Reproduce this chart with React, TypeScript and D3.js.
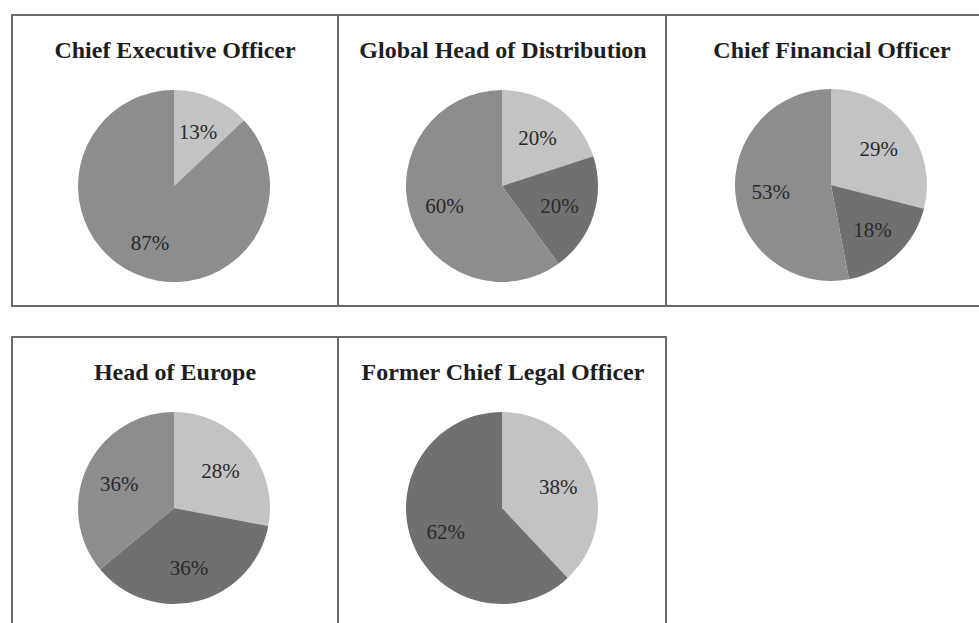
import React from "react";
import * as d3 from "d3";

// ---- Data ----
const titles = [
  "Chief Executive Officer",
  "Global Head of Distribution",
  "Chief Financial Officer",
  "Head of Europe",
  "Former Chief Legal Officer",
];
const ceoValues = [13, 87];
const ceoShades = ["light", "medium"];
const distributionValues = [20, 20, 60];
const distributionShades = ["light", "dark", "medium"];
const cfoValues = [29, 18, 53];
const cfoShades = ["light", "dark", "medium"];
const europeValues = [28, 36, 36];
const europeShades = ["light", "dark", "medium"];
const legalValues = [38, 62];
const legalShades = ["light", "dark"];

const shadeColor: Record<string, string> = {
  light: "#c3c3c3",
  medium: "#8d8d8d",
  dark: "#707070",
};

const series = [
  { values: ceoValues, shades: ceoShades },
  { values: distributionValues, shades: distributionShades },
  { values: cfoValues, shades: cfoShades },
  { values: europeValues, shades: europeShades },
  { values: legalValues, shades: legalShades },
];

// ---- Layout ----
const W = 979;
const H = 623;
const panels = [
  { x: 12, y: 15, w: 326, h: 291, cx: 174, cy: 186 },
  { x: 338, y: 15, w: 328, h: 291, cx: 502, cy: 186 },
  { x: 666, y: 15, w: 330, h: 291, cx: 831, cy: 185 },
  { x: 12, y: 337, w: 326, h: 300, cx: 174, cy: 508 },
  { x: 338, y: 337, w: 328, h: 300, cx: 502, cy: 508 },
];
const R = 96;
const titleOffset = 43;
const FONT = "'Liberation Serif', 'Times New Roman', serif";

function Pie({ idx }: { idx: number }) {
  const p = panels[idx];
  const s = series[idx];
  const data = s.values.map((v, i) => ({ v, shade: s.shades[i] }));
  const pie = d3
    .pie<{ v: number; shade: string }>()
    .value((d) => d.v)
    .sort(null)
    .startAngle(0)
    .endAngle(2 * Math.PI);
  const arcs = pie(data);
  const arc = d3.arc<d3.PieArcDatum<{ v: number; shade: string }>>().innerRadius(0).outerRadius(R);
  const labelArc = d3
    .arc<d3.PieArcDatum<{ v: number; shade: string }>>()
    .innerRadius(R * 0.63)
    .outerRadius(R * 0.63);
  return (
    <g>
      <rect x={p.x} y={p.y} width={p.w} height={p.h} fill="none" stroke="#6a6a6a" strokeWidth={2} />
      <text
        x={p.cx + 1}
        y={p.y + titleOffset}
        textAnchor="middle"
        fontFamily={FONT}
        fontWeight="bold"
        fontSize={24}
        fill="#1e1e1e"
      >
        {titles[idx]}
      </text>
      <g transform={`translate(${p.cx},${p.cy})`}>
        {arcs.map((a, i) => (
          <path key={i} d={arc(a) || ""} fill={shadeColor[a.data.shade]} />
        ))}
        {arcs.map((a, i) => {
          const [lx, ly] = labelArc.centroid(a);
          return (
            <text
              key={"l" + i}
              x={lx}
              y={ly}
              dy="0.4em"
              textAnchor="middle"
              fontFamily={FONT}
              fontSize={21}
              fill="#2a2a2a"
            >
              {a.data.v + "%"}
            </text>
          );
        })}
      </g>
    </g>
  );
}

export default function App() {
  return (
    <svg
      width={W}
      height={H}
      style={{ position: "absolute", left: 0, top: 0, background: "#fff" }}
    >
      <rect width={W} height={H} fill="#fff" />
      {panels.map((_, i) => (
        <Pie key={i} idx={i} />
      ))}
    </svg>
  );
}
